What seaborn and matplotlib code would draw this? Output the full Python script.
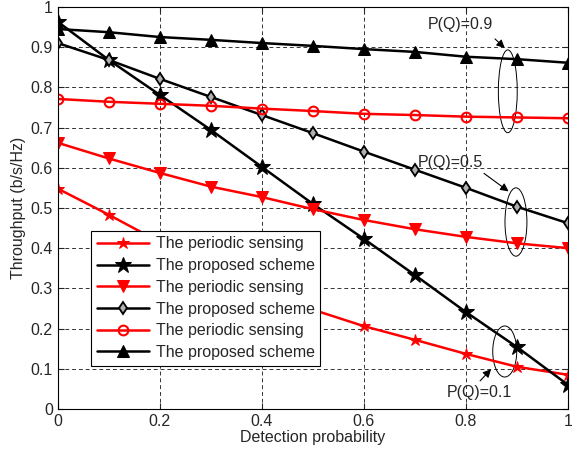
import matplotlib
matplotlib.use('Agg')
from matplotlib import pyplot as plt
from matplotlib.patches import Ellipse
import seaborn as sns

pd_vals = [0, 0.1, 0.2, 0.3, 0.4, 0.5, 0.6, 0.7, 0.8, 0.9, 1.0]

# P(Q)=0.1
periodic_01 = [0.548, 0.483, 0.415, 0.358, 0.300, 0.247, 0.206, 0.172, 0.137, 0.105, 0.085]
proposed_01 = [0.963, 0.868, 0.781, 0.694, 0.602, 0.510, 0.423, 0.333, 0.241, 0.154, 0.060]
# P(Q)=0.5
periodic_05 = [0.662, 0.623, 0.587, 0.553, 0.527, 0.497, 0.470, 0.447, 0.428, 0.412, 0.400]
proposed_05 = [0.910, 0.868, 0.821, 0.776, 0.731, 0.686, 0.640, 0.595, 0.550, 0.503, 0.462]
# P(Q)=0.9
periodic_09 = [0.771, 0.764, 0.759, 0.754, 0.747, 0.741, 0.734, 0.731, 0.727, 0.725, 0.723]
proposed_09 = [0.945, 0.937, 0.925, 0.918, 0.910, 0.903, 0.895, 0.888, 0.876, 0.870, 0.861]

sns.set_style('ticks')
plt.rcParams['font.family'] = ['Liberation Sans', 'DejaVu Sans']
plt.rcParams['font.size'] = 11.5

fig = plt.figure(figsize=(5.72, 4.58), dpi=100)
ax = fig.add_axes([0.101, 0.107, 0.892, 0.878])

lw = 1.8
sns.lineplot(x=pd_vals, y=periodic_01, color='red', marker='*', markersize=9, lw=lw,
             markeredgecolor='red', label='The periodic sensing', ax=ax)
sns.lineplot(x=pd_vals, y=proposed_01, color='black', marker='*', markersize=12, lw=lw,
             markeredgecolor='black', label='The proposed scheme', ax=ax)
sns.lineplot(x=pd_vals, y=periodic_05, color='red', marker='v', markersize=8, lw=lw,
             markeredgecolor='red', label='The periodic sensing', ax=ax)
sns.lineplot(x=pd_vals, y=proposed_05, color='black', marker='d', markersize=6, lw=lw,
             markeredgecolor='black', markerfacecolor='#b0b0b0', markeredgewidth=1.3,
             label='The proposed scheme', ax=ax)
sns.lineplot(x=pd_vals, y=periodic_09, color='red', marker='o', markersize=7, lw=lw,
             markeredgecolor='red', markerfacecolor='none', markeredgewidth=1.5,
             label='The periodic sensing', ax=ax)
sns.lineplot(x=pd_vals, y=proposed_09, color='black', marker='^', markersize=8, lw=lw,
             markeredgecolor='black', label='The proposed scheme', ax=ax)

ax.set_xlim(0, 1)
ax.set_ylim(0, 1)
ax.set_xticks([0, 0.2, 0.4, 0.6, 0.8, 1])
ax.set_xticklabels(['0', '0.2', '0.4', '0.6', '0.8', '1'])
ax.set_yticks([i / 10 for i in range(11)])
ax.set_yticklabels(['0'] + ['%.1f' % (i / 10) for i in range(1, 10)] + ['1'])
ax.grid(True, color='black', linestyle=(0, (4, 3)), linewidth=0.7, alpha=0.8)
ax.tick_params(direction='in', length=4, top=True, right=True, labelsize=11.5)
for s in ax.spines.values():
    s.set_visible(True)
    s.set_color('black')
    s.set_linewidth(0.8)
ax.set_xlabel('Detection probability', labelpad=1)
ax.set_ylabel('Throughput (b/s/Hz)', labelpad=3)

# ellipses and labels
ax.add_patch(Ellipse((0.882, 0.79), 0.037, 0.206, fill=False, ec='black', lw=0.7))
ax.add_patch(Ellipse((0.898, 0.465), 0.043, 0.17, fill=False, ec='black', lw=0.7))
ax.add_patch(Ellipse((0.876, 0.143), 0.047, 0.127, fill=False, ec='black', lw=0.7))
arw = dict(arrowstyle='-|>', color='black', lw=0.8, mutation_scale=12)
ax.text(0.725, 0.955, 'P(Q)=0.9', va='center')
ax.annotate('', xy=(0.88, 0.893), xytext=(0.853, 0.925), arrowprops=arw)
ax.text(0.706, 0.612, 'P(Q)=0.5', va='center')
ax.annotate('', xy=(0.888, 0.537), xytext=(0.831, 0.59), arrowprops=arw)
ax.text(0.763, 0.04, 'P(Q)=0.1', va='center')
ax.annotate('', xy=(0.853, 0.104), xytext=(0.824, 0.065), arrowprops=arw)

leg = ax.legend(loc='upper left', bbox_to_anchor=(0.065, 0.443), fancybox=False,
                framealpha=1, edgecolor='black', fontsize=11.5, handlelength=3.3,
                borderpad=0.35, labelspacing=0.42, handletextpad=0.4, borderaxespad=0)
leg.get_frame().set_linewidth(0.8)

fig.savefig('out.png', dpi=100)
